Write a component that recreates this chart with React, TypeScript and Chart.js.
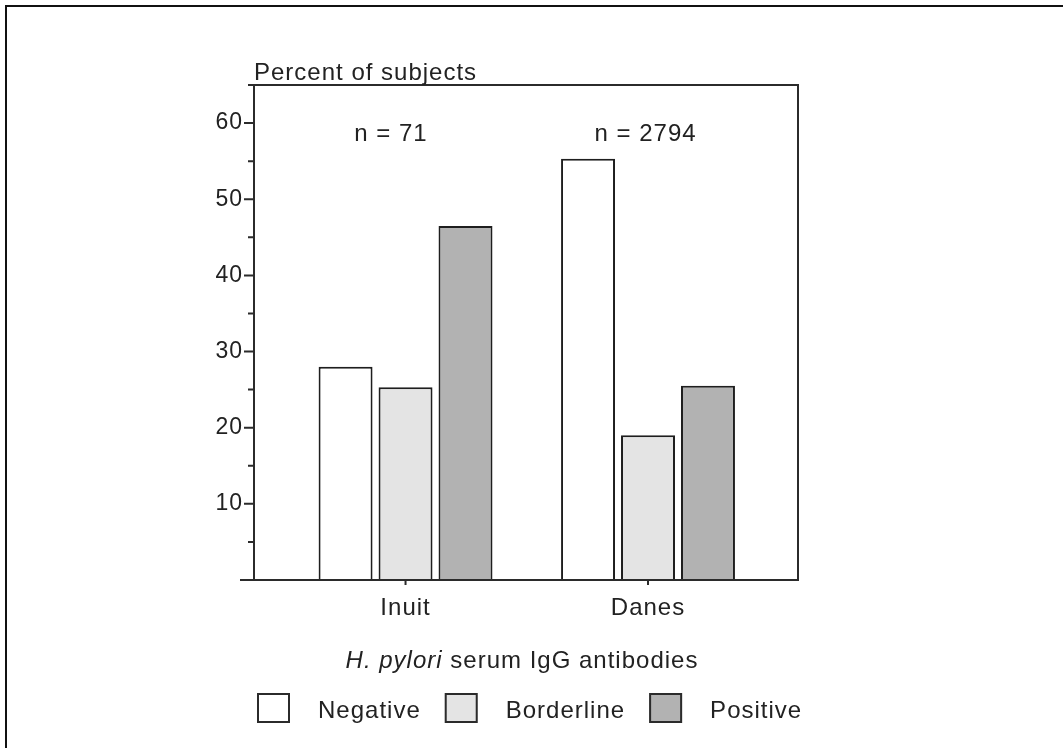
import React, { useEffect, useRef } from 'react';
import { Chart, registerables } from 'chart.js';

Chart.register(...registerables);

// ---- data ----
const categories = ['Inuit', 'Danes'];
const categoryX = [1, 2];
const seriesNames = ['Negative', 'Borderline', 'Positive'];
const negativeValues = [28.0, 55.3];
const borderlineValues = [25.3, 19.0];
const positiveValues = [46.5, 25.5];
const seriesColors = ['#ffffff', '#e4e4e4', '#b2b2b2'];
const yTickValues = [10, 20, 30, 40, 50, 60];
const yMinorTickValues = [5, 15, 25, 35, 45, 55, 65];
const sampleLabels = ['n = 71', 'n = 2794'];
const sampleLabelX = [0.94, 1.99];
const sampleLabelY = 57.6;
const yAxisTitle = 'Percent of subjects';
const xAxisTitleItalic = 'H. pylori';
const xAxisTitleRest = ' serum IgG antibodies';

const FONT = '"Liberation Sans", Arial, Helvetica, sans-serif';
const TEXT = '#222222';
const LINE = '#2b2b2b';

const decorPlugin = {
  id: 'decor',
  beforeDraw(chart: any) {
    chart.ctx.letterSpacing = '1px';
  },
  afterDraw(chart: any) {
    const ctx = chart.ctx as CanvasRenderingContext2D;
    const { left, right, top, bottom } = chart.chartArea;
    const xs = chart.scales.x;
    const ys = chart.scales.y;
    ctx.save();
    (ctx as any).letterSpacing = '1px';
    ctx.strokeStyle = LINE;
    ctx.lineWidth = 2;
    ctx.lineCap = 'butt';
    ctx.beginPath();
    // x axis line (extends slightly left of y axis)
    ctx.moveTo(left - 14, bottom);
    ctx.lineTo(right + 1, bottom);
    // y axis
    ctx.moveTo(left, bottom + 1);
    ctx.lineTo(left, top - 1);
    // top border
    ctx.moveTo(left, top);
    ctx.lineTo(right + 1, top);
    // right border
    ctx.moveTo(right, top);
    ctx.lineTo(right, bottom);
    // y ticks
    yTickValues.forEach((v) => {
      const py = ys.getPixelForValue(v);
      ctx.moveTo(left - 10, py);
      ctx.lineTo(left, py);
    });
    yMinorTickValues.forEach((v) => {
      const py = ys.getPixelForValue(v);
      ctx.moveTo(left - 6, py);
      ctx.lineTo(left, py);
    });
    // x ticks
    categoryX.forEach((v) => {
      const px = xs.getPixelForValue(v);
      ctx.moveTo(px, bottom);
      ctx.lineTo(px, bottom + 5);
    });
    ctx.stroke();

    ctx.fillStyle = TEXT;
    ctx.font = `24px ${FONT}`;
    ctx.textBaseline = 'alphabetic';

    // y axis title
    ctx.textAlign = 'left';
    ctx.fillText(yAxisTitle, left, 80);

    // sample size labels
    ctx.textAlign = 'center';
    sampleLabels.forEach((t, i) => {
      ctx.fillText(t, xs.getPixelForValue(sampleLabelX[i]), ys.getPixelForValue(sampleLabelY));
    });

    // x axis title
    ctx.textAlign = 'left';
    ctx.font = `italic 24px ${FONT}`;
    const w1 = ctx.measureText(xAxisTitleItalic).width;
    ctx.font = `24px ${FONT}`;
    const w2 = ctx.measureText(xAxisTitleRest).width;
    const cx = (left + right) / 2 - 4;
    const sx = cx - (w1 + w2) / 2;
    ctx.font = `italic 24px ${FONT}`;
    ctx.fillText(xAxisTitleItalic, sx, 668);
    ctx.font = `24px ${FONT}`;
    ctx.fillText(xAxisTitleRest, sx + w1, 668);

    // legend
    let lx = 257;
    const boxW = 33;
    const boxH = 30;
    const boxTop = 693;
    seriesNames.forEach((name, i) => {
      ctx.fillStyle = chart.data.datasets[i].backgroundColor;
      ctx.fillRect(lx, boxTop, boxW, boxH);
      ctx.strokeStyle = LINE;
      ctx.lineWidth = 2;
      ctx.strokeRect(lx + 1, boxTop + 1, boxW - 2, boxH - 2);
      ctx.fillStyle = TEXT;
      ctx.fillText(name, lx + boxW + 28, 718);
      lx += boxW + 28 + ctx.measureText(name).width + 24;
    });
    ctx.restore();
  },
};

export default function App() {
  const canvasRef = useRef<HTMLCanvasElement | null>(null);

  useEffect(() => {
    if (!canvasRef.current) return;
    const seriesValues = [negativeValues, borderlineValues, positiveValues];
    const chart = new Chart(canvasRef.current, {
      type: 'bar',
      data: {
        datasets: seriesNames.map((name, si) => ({
          label: name,
          data: categoryX.map((x, i) => ({ x, y: seriesValues[si][i] })),
          backgroundColor: seriesColors[si],
          borderColor: '#1e1e1e',
          borderWidth: 2,
          borderSkipped: 'start',
          categoryPercentage: 0.742,
          barPercentage: 0.9,
        })),
      },
      options: {
        responsive: false,
        animation: false,
        devicePixelRatio: 1,
        layout: { padding: { left: 0, right: 265, top: 85, bottom: 0 } },
        plugins: {
          legend: { display: false },
          tooltip: { enabled: false },
          title: { display: false },
        },
        scales: {
          x: {
            type: 'linear',
            position: 'bottom',
            offset: false,
            min: 0.375,
            max: 2.6186,
            grid: { display: false, drawTicks: false, offset: false },
            border: { display: false },
            afterBuildTicks: (scale: any) => {
              scale.ticks = categoryX.map((v) => ({ value: v }));
            },
            afterFit: (scale: any) => {
              scale.height = 168;
            },
            ticks: {
              autoSkip: false,
              maxRotation: 0,
              padding: 14,
              color: TEXT,
              font: { family: FONT, size: 24 },
              callback: (value: any) => {
                const idx = categoryX.indexOf(Number(value));
                return idx >= 0 ? categories[idx] : '';
              },
            },
          },
          y: {
            type: 'linear',
            position: 'left',
            min: 0,
            max: 65,
            grid: { display: false, drawTicks: false },
            border: { display: false },
            afterBuildTicks: (scale: any) => {
              scale.ticks = yTickValues.map((v) => ({ value: v }));
            },
            afterFit: (scale: any) => {
              scale.width = 254;
            },
            ticks: {
              padding: 11,
              color: TEXT,
              font: { family: FONT, size: 23 },
            },
          },
        },
      },
      plugins: [decorPlugin],
    } as any);
    return () => chart.destroy();
  }, []);

  return (
    <div style={{ position: 'absolute', left: 0, top: 0, width: 1063, height: 748, overflow: 'hidden', background: '#fff' }}>
      <div
        style={{
          position: 'absolute',
          left: 5,
          top: 5,
          width: 2000,
          height: 2000,
          borderTop: '2px solid #111',
          borderLeft: '2px solid #111',
        }}
      />
      <canvas ref={canvasRef} width={1063} height={748} style={{ position: 'absolute', left: 0, top: 0, display: 'block' }} />
    </div>
  );
}
